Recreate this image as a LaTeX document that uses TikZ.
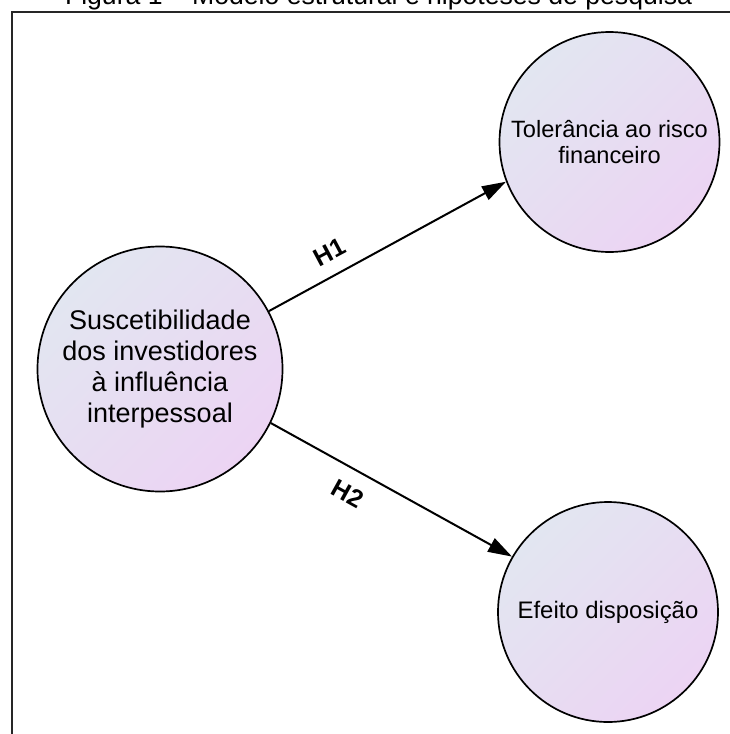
\documentclass[tikz,border=0pt]{standalone}
\usepackage{fontspec}
\setmainfont{Liberation Sans}
\usetikzlibrary{arrows.meta}
\definecolor{shadeA}{RGB}{226,230,241}
\definecolor{shadeB}{RGB}{236,212,243}
\tikzset{
  construct/.style={circle, draw=black, line width=1.7pt, inner sep=0pt,
    top color=shadeA, bottom color=shadeB, shading angle=45, align=center},
  path/.style={line width=2pt, -{Triangle[length=24pt,width=15pt]}},
  hyp/.style={font=\fontsize{25}{28}\selectfont\bfseries, inner sep=0pt},
}
\begin{document}
\begin{tikzpicture}[x=1pt,y=-1pt]
  \useasboundingbox (0,0) rectangle (729,734);
  % caption line and frame
  \node[anchor=base, font=\fontsize{26.6}{30}\selectfont] (title) at (378.5,4.5)
    {Figura 1 – Modelo estrutural e hipóteses de pesquisa};
  \draw[line width=2pt, black!85] (11.5,740) -- (11.5,11.5) -- (740,11.5);
  % constructs
  \node[construct, minimum size=245pt, font=\fontsize{27}{31}\selectfont] (S) at (160,369)
    {Suscetibilidade\\dos investidores\\à influência\\interpessoal};
  \node[construct, minimum size=220pt, font=\fontsize{23.6}{26.7}\selectfont] (T) at (609.5,142)
    {Tolerância ao risco\\financeiro};
  \node[construct, minimum size=220pt, font=\fontsize{23.9}{27}\selectfont] (E) at (608,612)
    {Efeito disposição};
  % hypotheses
  \draw[path] (S.28.6) -- (T.201.4);
  \draw[path] (S.-26) -- (E.150);
  \node[hyp, rotate=28] (h1) at (330,252) {H1};
  \node[hyp, rotate=-29] (h2) at (348,494) {H2};
\end{tikzpicture}
\end{document}
